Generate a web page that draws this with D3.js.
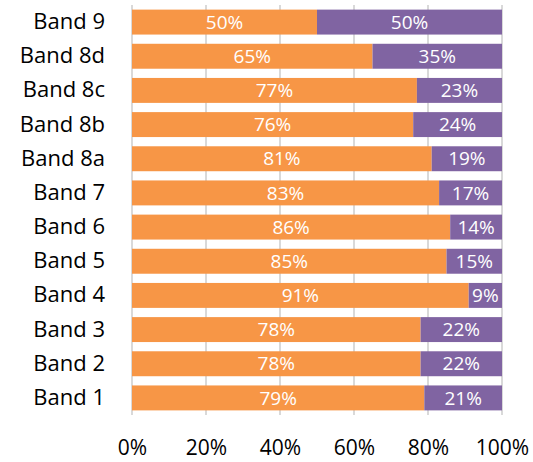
<!DOCTYPE html>
<html>
<head>
<meta charset="utf-8">
<script src="https://cdn.jsdelivr.net/npm/d3@7"></script>
<style>
  body { margin: 0; background: #fff; }
  text { font-family: "Open Sans", "Noto Sans", sans-serif; }
</style>
</head>
<body>
<div id="chart"></div>
<script>
// data
const bands = ["Band 9","Band 8d","Band 8c","Band 8b","Band 8a","Band 7","Band 6","Band 5","Band 4","Band 3","Band 2","Band 1"];
const first = [50,65,77,76,81,83,86,85,91,78,78,79];
const second = [50,35,23,24,19,17,14,15,9,22,22,21];
const ticks = [0,20,40,60,80,100];

const colors = ["#F79646","#8064A2"];

const svg = d3.select("#chart")
  .append("svg")
  .attr("width",533)
  .attr("height",462);

const x = d3.scaleLinear().domain([0,100]).range([132,502]);
const y = d3.scaleBand().domain(bands).range([5,415]).paddingInner(0.27).paddingOuter(0.135);

// gridlines
svg.append("g")
   .selectAll("line")
   .data(ticks)
   .enter()
   .append("line")
   .attr("x1",d => x(d))
   .attr("x2",d => x(d))
   .attr("y1",5)
   .attr("y2",415)
   .attr("stroke","#d9d9d9")
   .attr("stroke-width",2);

const rows = bands.map((b,i) => ({band:b, a:first[i], b2:second[i]}));

// orange part
svg.append("g")
   .selectAll("rect")
   .data(rows)
   .enter()
   .append("rect")
   .attr("x",x(0))
   .attr("y",d => y(d.band))
   .attr("width",d => x(d.a) - x(0))
   .attr("height",y.bandwidth())
   .attr("fill",colors[0]);

// purple part
svg.append("g")
   .selectAll("rect")
   .data(rows)
   .enter()
   .append("rect")
   .attr("x",d => x(d.a))
   .attr("y",d => y(d.band))
   .attr("width",d => x(d.a + d.b2) - x(d.a))
   .attr("height",y.bandwidth())
   .attr("fill",colors[1]);

// labels inside bars
const lab = svg.append("g")
   .attr("fill","#fff")
   .attr("font-size","19px")
   .attr("text-anchor","middle");

lab.selectAll(".la")
   .data(rows)
   .enter()
   .append("text")
   .attr("x",d => x(d.a/2))
   .attr("y",d => y(d.band) + y.bandwidth()/2)
   .attr("dy","0.35em")
   .text(d => d.a + "%");

lab.selectAll(".lb")
   .data(rows)
   .enter()
   .append("text")
   .attr("x",d => x(d.a + d.b2/2))
   .attr("y",d => y(d.band) + y.bandwidth()/2)
   .attr("dy","0.35em")
   .text(d => d.b2 + "%");

// category axis
const yAxis = d3.axisLeft(y).tickSize(0).tickPadding(27);
svg.append("g")
   .attr("transform","translate(" + x(0) + ",0)")
   .call(yAxis)
   .call(g => g.select(".domain").remove())
   .call(g => g.selectAll("text")
      .attr("font-size","22px")
      .attr("fill","#000")
      .style("font-family","'Open Sans', sans-serif"));

// value axis
const xAxis = d3.axisBottom(x).tickValues(ticks).tickSize(0).tickPadding(25).tickFormat(d => d + "%");
svg.append("g")
   .attr("transform","translate(0,415)")
   .call(xAxis)
   .call(g => g.select(".domain").remove())
   .call(g => g.selectAll("text")
      .attr("font-size","21px")
      .attr("fill","#000")
      .style("font-family","'Open Sans', sans-serif"));
</script>
</body>
</html>
